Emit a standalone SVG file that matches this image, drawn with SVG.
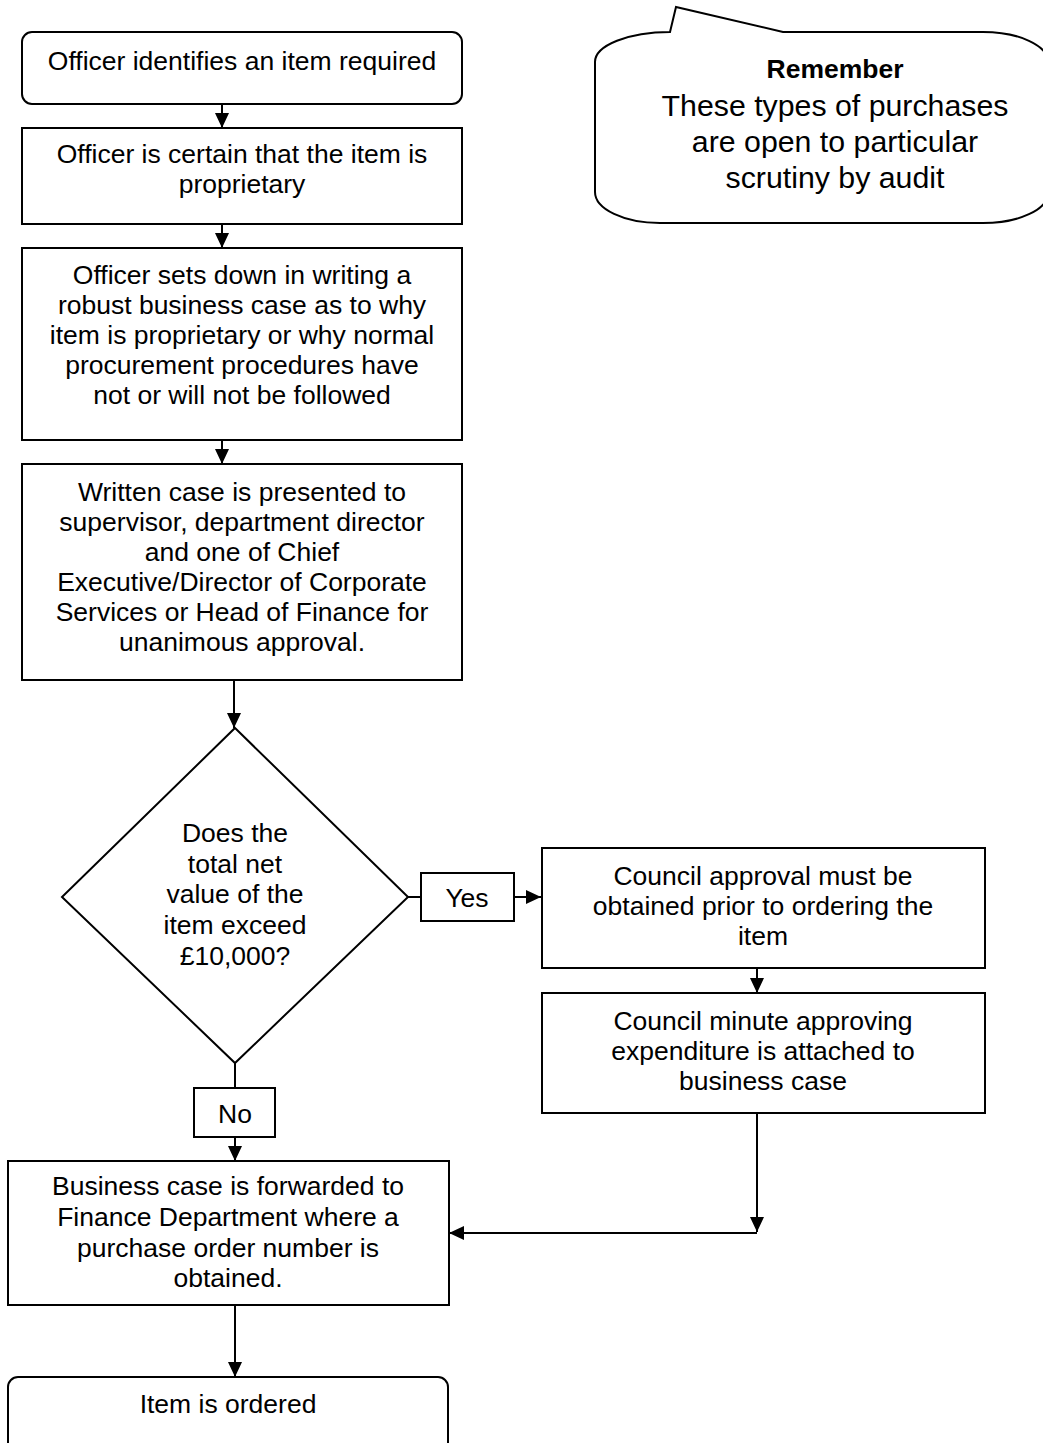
<svg xmlns="http://www.w3.org/2000/svg" width="1043" height="1443" viewBox="0 0 1043 1443">
<style>
.box{fill:#fff;stroke:#000;stroke-width:2}
.t{font-family:"Liberation Sans",Arial,sans-serif;font-size:26.5px;fill:#000;text-anchor:middle}
.c{font-size:30.3px}
.b{font-weight:bold}
.ln{fill:none;stroke:#000;stroke-width:2}
</style>
<defs>
<marker id="ah" markerUnits="userSpaceOnUse" markerWidth="15" markerHeight="14" refX="15" refY="7" orient="auto">
<path d="M0,0 L15,7 L0,14 Z" fill="#000"/>
</marker>
</defs>
<rect width="1043" height="1443" fill="#fff"/>
<g id="connectors">
<line class="ln" x1="222" y1="104" x2="222" y2="128" marker-end="url(#ah)"/>
<line class="ln" x1="222" y1="224" x2="222" y2="248" marker-end="url(#ah)"/>
<line class="ln" x1="222" y1="440" x2="222" y2="464" marker-end="url(#ah)"/>
<line class="ln" x1="234" y1="680" x2="234" y2="728" marker-end="url(#ah)"/>
<line class="ln" x1="408" y1="897" x2="421" y2="897"/>
<line class="ln" x1="514" y1="897" x2="541" y2="897" marker-end="url(#ah)"/>
<line class="ln" x1="757" y1="968" x2="757" y2="993" marker-end="url(#ah)"/>
<line class="ln" x1="757" y1="1113" x2="757" y2="1232" marker-end="url(#ah)"/>
<line class="ln" x1="757" y1="1233" x2="449" y2="1233" marker-end="url(#ah)"/>
<line class="ln" x1="235" y1="1063" x2="235" y2="1088"/>
<line class="ln" x1="235" y1="1137" x2="235" y2="1161" marker-end="url(#ah)"/>
<line class="ln" x1="235" y1="1305" x2="235" y2="1377" marker-end="url(#ah)"/>
</g>
<g id="n1">
<rect class="box" x="22" y="32" width="440" height="72" rx="10"/>
<text class="t" x="242" y="70">Officer identifies an item required</text>
</g>
<g id="n2">
<rect class="box" x="22" y="128" width="440" height="96"/>
<text class="t" x="242" y="163">Officer is certain that the item is</text>
<text class="t" x="242" y="193">proprietary</text>
</g>
<g id="n3">
<rect class="box" x="22" y="248" width="440" height="192"/>
<text class="t" x="242" y="284">Officer sets down in writing a</text>
<text class="t" x="242" y="314">robust business case as to why</text>
<text class="t" x="242" y="344">item is proprietary or why normal</text>
<text class="t" x="242" y="374">procurement procedures have</text>
<text class="t" x="242" y="404">not or will not be followed</text>
</g>
<g id="n4">
<rect class="box" x="22" y="464" width="440" height="216"/>
<text class="t" x="242" y="501">Written case is presented to</text>
<text class="t" x="242" y="531">supervisor, department director</text>
<text class="t" x="242" y="561">and one of Chief</text>
<text class="t" x="242" y="591">Executive/Director of Corporate</text>
<text class="t" x="242" y="621">Services or Head of Finance for</text>
<text class="t" x="242" y="651">unanimous approval.</text>
</g>
<g id="decision">
<polygon class="box" points="235,728 408,897 235,1063 62,897"/>
<text class="t" x="235" y="842">Does the</text>
<text class="t" x="235" y="873">total net</text>
<text class="t" x="235" y="903">value of the</text>
<text class="t" x="235" y="934">item exceed</text>
<text class="t" x="235" y="965">£10,000?</text>
</g>
<g id="yes">
<rect class="box" x="421" y="873" width="93" height="48"/>
<text class="t" x="467" y="907">Yes</text>
</g>
<g id="no">
<rect class="box" x="194" y="1088" width="81" height="49"/>
<text class="t" x="235" y="1123">No</text>
</g>
<g id="council1">
<rect class="box" x="542" y="848" width="443" height="120"/>
<text class="t" x="763" y="885">Council approval must be</text>
<text class="t" x="763" y="915">obtained prior to ordering the</text>
<text class="t" x="763" y="945">item</text>
</g>
<g id="council2">
<rect class="box" x="542" y="993" width="443" height="120"/>
<text class="t" x="763" y="1030">Council minute approving</text>
<text class="t" x="763" y="1060">expenditure is attached to</text>
<text class="t" x="763" y="1090">business case</text>
</g>
<g id="finance">
<rect class="box" x="8" y="1161" width="441" height="144"/>
<text class="t" x="228" y="1195">Business case is forwarded to</text>
<text class="t" x="228" y="1226">Finance Department where a</text>
<text class="t" x="228" y="1257">purchase order number is</text>
<text class="t" x="228" y="1287">obtained.</text>
</g>
<g id="ordered">
<rect class="box" x="8" y="1377" width="440" height="100" rx="10"/>
<text class="t" x="228" y="1413">Item is ordered</text>
</g>
<g id="callout">
<path class="box" d="M670,32 L676,7 L783,32 L983,32 A65,30 0 0 1 1048,62 L1048,193 A65,30 0 0 1 983,223 L660,223 A65,31 0 0 1 595,192 L595,62 A75,30 0 0 1 670,32 Z"/>
<text class="t b" x="835" y="78">Remember</text>
<text class="t c" x="835" y="116">These types of purchases</text>
<text class="t c" x="835" y="152">are open to particular</text>
<text class="t c" x="835" y="188">scrutiny by audit</text>
</g>
</svg>
